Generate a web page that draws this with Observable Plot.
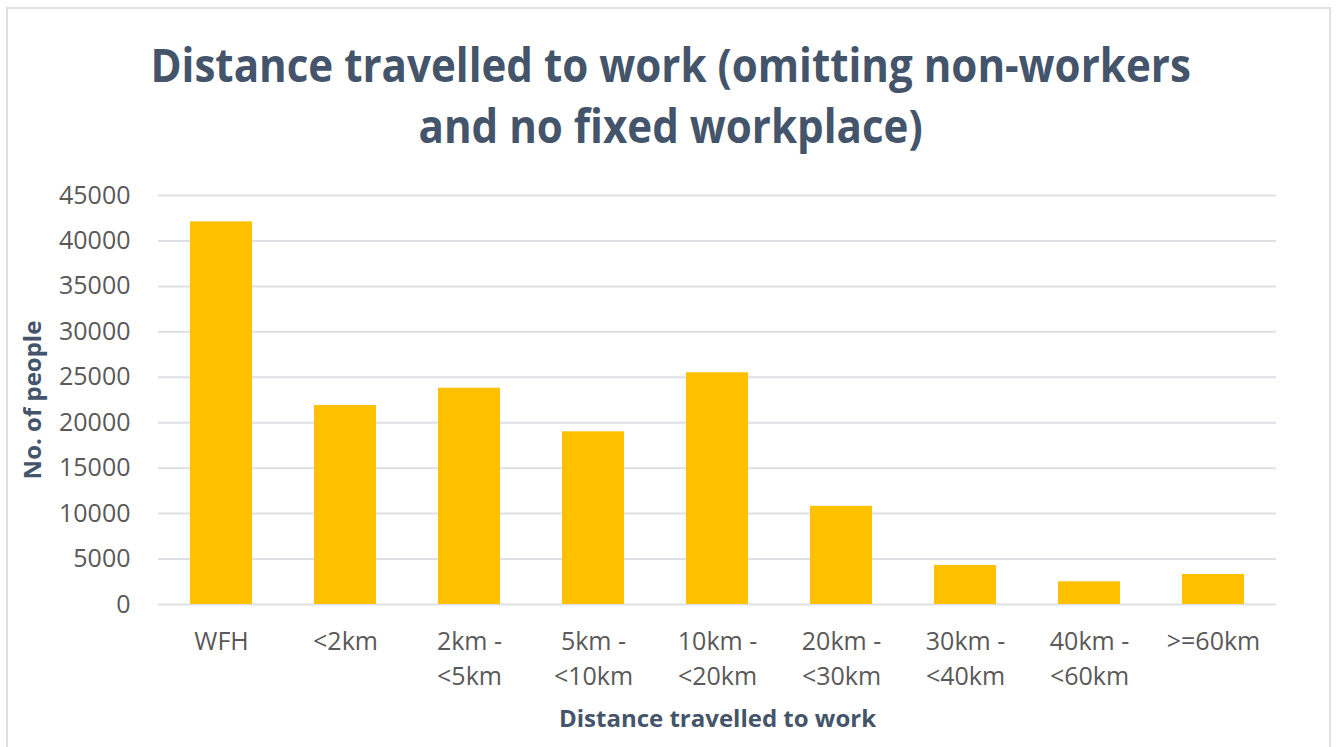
<!DOCTYPE html>
<html>
<head>
<meta charset="utf-8">
<script src="https://cdn.jsdelivr.net/npm/d3@7"></script>
<script src="https://cdn.jsdelivr.net/npm/@observablehq/plot@0.6"></script>
<style>
  html, body { margin: 0; padding: 0; background: #fff; }
  #wrap { position: relative; width: 1341px; height: 747px; overflow: hidden; background: #fff; }
  #frame { position: absolute; left: 6px; top: 7px; width: 1325px; height: 800px; border: 2px solid #dde1e7; box-sizing: border-box; }
  #title { position: absolute; left: 0; width: 1341px; top: 34px; text-align: center;
           font-family: "Open Sans", sans-serif; font-weight: 700; font-size: 46px; line-height: 61px;
           color: #44546a; transform: scaleX(0.915); transform-origin: 672px 0; }
  #chart { position: absolute; left: 0; top: 170px; }
</style>
</head>
<body>
<div id="wrap">
  <div id="frame"></div>
  <div id="title">Distance travelled to work (omitting non-workers<br>and no fixed workplace)</div>
  <div id="chart"></div>
</div>
<script>
const categories = ["WFH", "<2km", "2km -\n<5km", "5km -\n<10km", "10km -\n<20km", "20km -\n<30km", "30km -\n<40km", "40km -\n<60km", ">=60km"];
const people = [42100, 21900, 23800, 19000, 25500, 10800, 4300, 2500, 3300];
const yTicks = [0, 5000, 10000, 15000, 20000, 25000, 30000, 35000, 40000, 45000];
const xTitle = "Distance travelled to work";
const yTitle = "No. of people";

const data = categories.map((c, i) => ({cat: c, value: people[i]}));

const chart = Plot.plot({
  width: 1341,
  height: 577,
  marginLeft: 158,
  marginRight: 65,
  marginTop: 25,
  marginBottom: 143,
  style: {fontFamily: "Open Sans, sans-serif", fontSize: "25px", color: "#595959", background: "transparent"},
  x: {domain: categories, paddingInner: 0.5, paddingOuter: 0.25, label: null},
  y: {domain: [0, 45000], label: null},
  marks: [
    Plot.gridY(yTicks, {stroke: "#dde1e7", strokeOpacity: 1, strokeWidth: 2}),
    Plot.barY(data, {x: "cat", y: "value", fill: "#FFC000"}),
    Plot.axisY(yTicks, {tickSize: 0, tickPadding: 28, tickFormat: d => String(d), fontSize: 25, fill: "#595959"}),
    Plot.axisX({tickSize: 0, tickPadding: 21, lineHeight: 1.4, fontSize: 25, fill: "#595959"}),
    Plot.text([xTitle], {frameAnchor: "bottom", dy: 122, fontWeight: "bold", fontSize: 24, fill: "#44546a"}),
    Plot.text([yTitle], {frameAnchor: "left", dx: -125, rotate: -90, textAnchor: "middle", fontWeight: "bold", fontSize: 24, fill: "#44546a"})
  ]
});
document.getElementById("chart").appendChild(chart);
</script>
</body>
</html>
